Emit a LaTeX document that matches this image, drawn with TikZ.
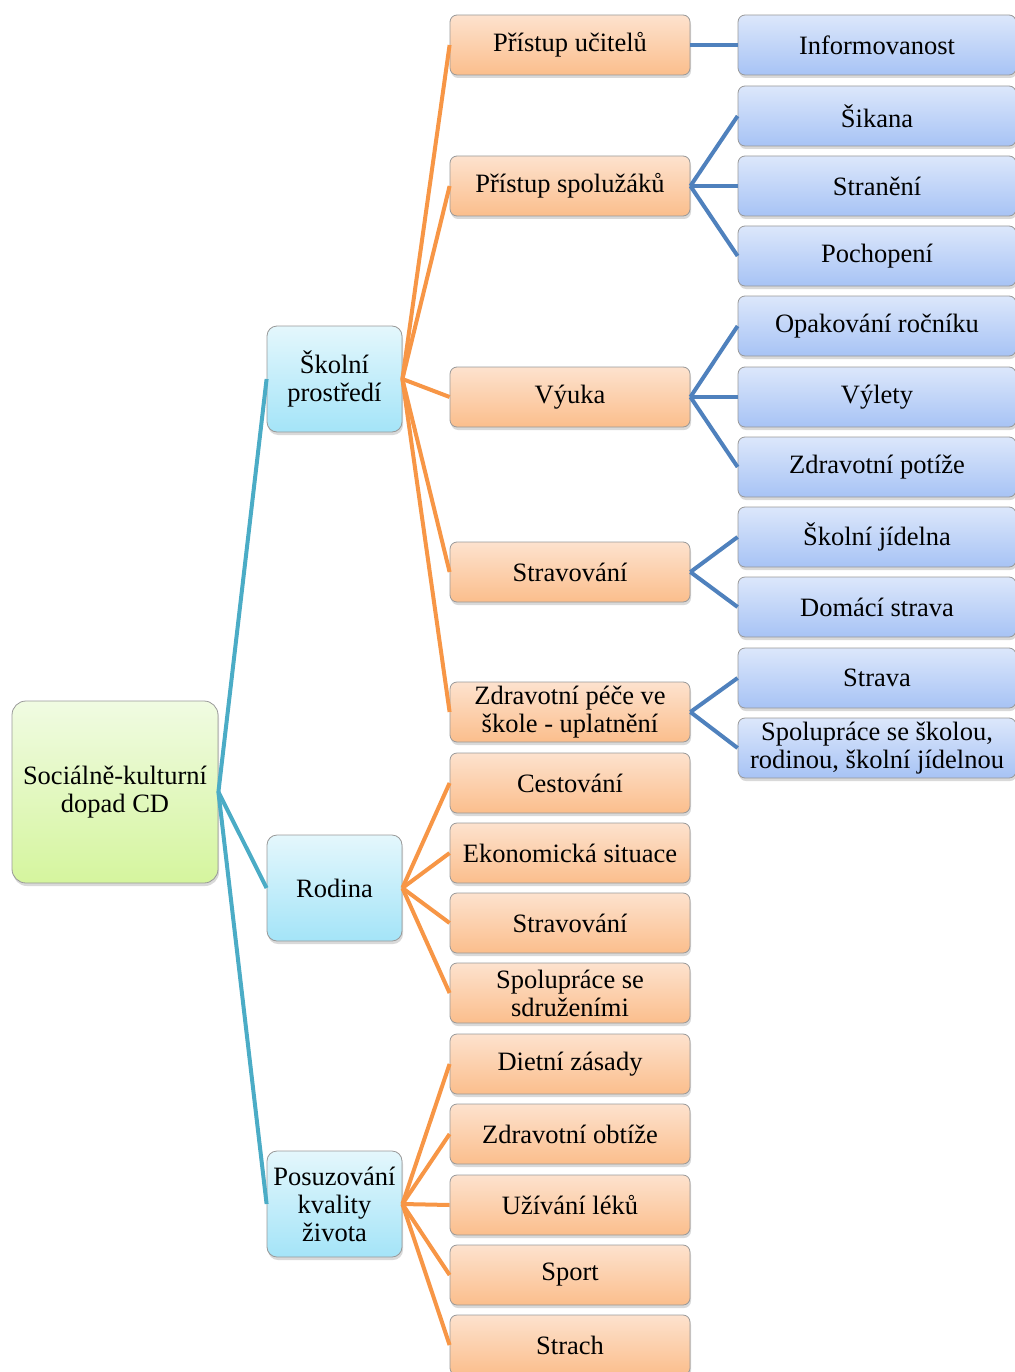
\documentclass[tikz,border=0pt]{standalone}
\usepackage{fontspec}
\setmainfont{Liberation Serif}
\usepackage{tikz}
\usetikzlibrary{shadows}

\definecolor{tealline}{RGB}{75,172,198}
\definecolor{orangeline}{RGB}{247,150,70}
\definecolor{blueline}{RGB}{79,129,189}

\begin{document}
\begin{tikzpicture}[x=1pt, y=-1pt, line width=4pt,
    box/.style={draw=black!40, line width=0.8pt, rounded corners=7pt, align=center,
      inner sep=0pt, font=\fontsize{26.5}{28}\selectfont,
      drop shadow={opacity=0.3, shadow xshift=1pt, shadow yshift=-3pt}},
    rootbox/.style={box, minimum width=206pt, minimum height=182pt, rounded corners=14pt,
      top color={rgb,255:red,240;green,251;blue,226}, bottom color={rgb,255:red,213;green,245;blue,158}},
    catbox/.style={box, minimum width=135pt, minimum height=106pt, rounded corners=10pt,
      top color={rgb,255:red,228;green,247;blue,252}, bottom color={rgb,255:red,164;green,228;blue,248}},
    subbox/.style={box, minimum width=240pt, minimum height=60pt,
      top color={rgb,255:red,253;green,226;blue,206}, bottom color={rgb,255:red,251;green,190;blue,140}},
    leafbox/.style={box, minimum width=278pt, minimum height=60pt,
      top color={rgb,255:red,220;green,231;blue,251}, bottom color={rgb,255:red,167;green,195;blue,245}}]
    \useasboundingbox (0,0) rectangle (1014,1372);

    \node[rootbox](root) at (115,792) {Sociálně-kulturní\\dopad CD};

    \node[catbox](sk) at (334.5,379) {Školní\\prostředí};
    \node[catbox](ro) at (334.5,888) {Rodina};
    \node[catbox](po) at (334.5,1204) {Posuzování\\kvality\\života};

    \node[subbox](sk1) at (570,45) {Přístup učitelů};
    \node[subbox](sk2) at (570,186) {Přístup spolužáků};
    \node[subbox](sk3) at (570,397) {Výuka};
    \node[subbox](sk4) at (570,572) {Stravování};
    \node[subbox](sk5) at (570,712) {Zdravotní péče ve\\škole - uplatnění};
    \node[subbox](ro1) at (570,783) {Cestování};
    \node[subbox](ro2) at (570,853) {Ekonomická situace};
    \node[subbox](ro3) at (570,923) {Stravování};
    \node[subbox](ro4) at (570,993) {Spolupráce se\\sdruženími};
    \node[subbox](po1) at (570,1064) {Dietní zásady};
    \node[subbox](po2) at (570,1134) {Zdravotní obtíže};
    \node[subbox](po3) at (570,1205) {Užívání léků};
    \node[subbox](po4) at (570,1275) {Sport};
    \node[subbox](po5) at (570,1345) {Strach};

    \node[leafbox](sk11) at (877,45) {Informovanost};
    \node[leafbox](sk21) at (877,116) {Šikana};
    \node[leafbox](sk22) at (877,186) {Stranění};
    \node[leafbox](sk23) at (877,256) {Pochopení};
    \node[leafbox](sk31) at (877,326) {Opakování ročníku};
    \node[leafbox](sk32) at (877,397) {Výlety};
    \node[leafbox](sk33) at (877,467) {Zdravotní potíže};
    \node[leafbox](sk41) at (877,537) {Školní jídelna};
    \node[leafbox](sk42) at (877,607) {Domácí strava};
    \node[leafbox](sk51) at (877,678) {Strava};
    \node[leafbox](sk52) at (877,748) {Spolupráce se školou,\\rodinou, školní jídelnou};

    \draw[tealline] (root.east) edge (sk.west)
                    (root.east) edge (ro.west)
                    (root.east) edge (po.west);

    \draw[orangeline] (sk.east) edge (sk1.west)
                      (sk.east) edge (sk2.west)
                      (sk.east) edge (sk3.west)
                      (sk.east) edge (sk4.west)
                      (sk.east) edge (sk5.west)
                      (ro.east) edge (ro1.west)
                      (ro.east) edge (ro2.west)
                      (ro.east) edge (ro3.west)
                      (ro.east) edge (ro4.west)
                      (po.east) edge (po1.west)
                      (po.east) edge (po2.west)
                      (po.east) edge (po3.west)
                      (po.east) edge (po4.west)
                      (po.east) edge (po5.west);

    \draw[blueline] (sk1.east) edge (sk11.west)
                    (sk2.east) edge (sk21.west)
                    (sk2.east) edge (sk22.west)
                    (sk2.east) edge (sk23.west)
                    (sk3.east) edge (sk31.west)
                    (sk3.east) edge (sk32.west)
                    (sk3.east) edge (sk33.west)
                    (sk4.east) edge (sk41.west)
                    (sk4.east) edge (sk42.west)
                    (sk5.east) edge (sk51.west)
                    (sk5.east) edge (sk52.west);
  \end{tikzpicture}
\end{document}
